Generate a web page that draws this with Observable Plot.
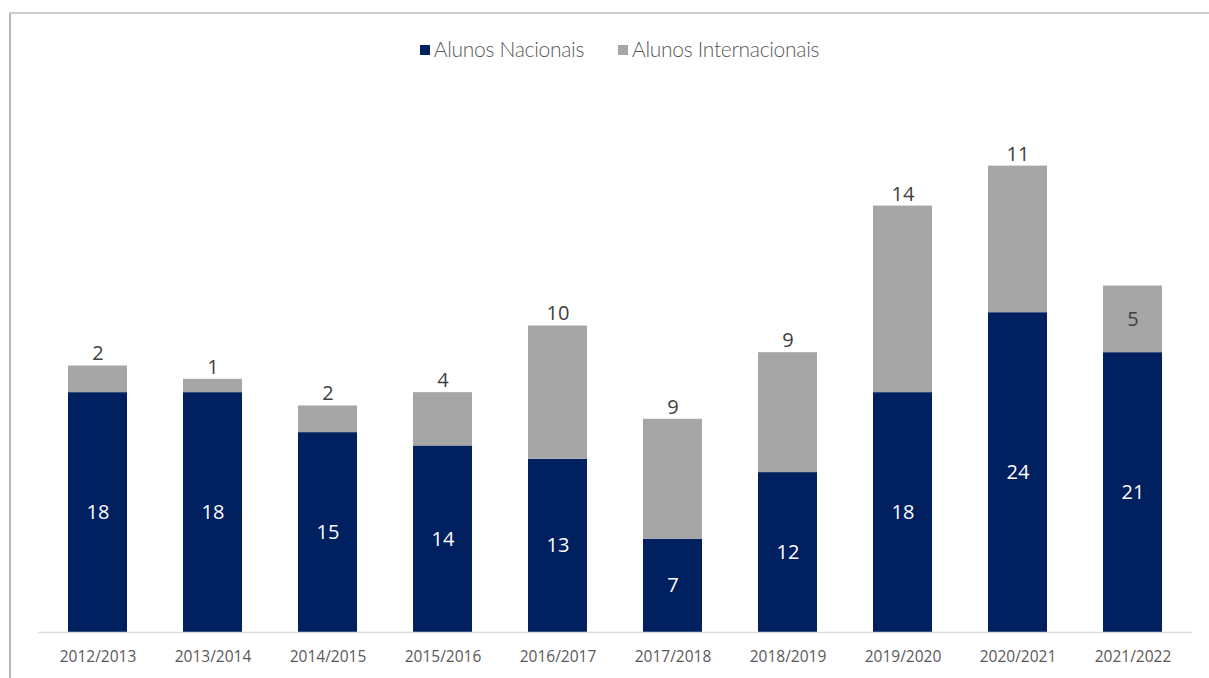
<!DOCTYPE html>
<html><head><meta charset="utf-8">
<script src="https://cdn.jsdelivr.net/npm/d3@7"></script>
<script src="https://cdn.jsdelivr.net/npm/@observablehq/plot@0.6"></script>
<style>
html,body{margin:0;padding:0;background:#fff;width:1209px;height:678px;overflow:hidden;}
#frame{position:absolute;left:9px;top:12px;width:1300px;height:800px;border-top:2px solid #d0d0d0;border-left:2px solid #b8b8b8;}
#legend{position:absolute;top:36px;left:30px;width:1179px;display:flex;justify-content:center;gap:34px;font-family:"Lato",sans-serif;font-size:21px;color:#595959;font-weight:300;letter-spacing:-0.3px;}
#legend span.sw{display:inline-block;width:10px;height:10px;margin-right:4px;vertical-align:middle;position:relative;top:-2px;}
#chart{position:absolute;left:0;top:0;}
</style></head><body>
<div id="frame"></div>
<div id="legend"></div>
<div id="chart"></div>
<script>
const years = ["2012/2013","2013/2014","2014/2015","2015/2016","2016/2017","2017/2018","2018/2019","2019/2020","2020/2021","2021/2022"];
const nacionais = [18,18,15,14,13,7,12,18,24,21];
const internacionais = [2,1,2,4,10,9,9,14,11,5];
const seriesNames = ["Alunos Nacionais","Alunos Internacionais"];
const colors = ["#002060","#a6a6a6"];

const leg = document.getElementById("legend");
seriesNames.forEach((n,i)=>{
  const d = document.createElement("div");
  d.innerHTML = `<span class="sw" style="background:${colors[i]}"></span>${n}`;
  leg.appendChild(d);
});

const rows = [];
years.forEach((y,i)=>{
  rows.push({year:y, serie:seriesNames[0], value:nacionais[i], base:0, top:nacionais[i]});
  rows.push({year:y, serie:seriesNames[1], value:internacionais[i], base:nacionais[i], top:nacionais[i]+internacionais[i]});
});
const nac = rows.filter(d=>d.serie===seriesNames[0]);
const intl = rows.filter(d=>d.serie===seriesNames[1]);
const lastYear = years[years.length-1];

const plot = Plot.plot({
  width:1209, height:678,
  marginLeft:38, marginRight:17, marginTop:99, marginBottom:46,
  style:{fontFamily:"'Open Sans',sans-serif", background:"transparent"},
  x:{domain:years, paddingInner:0.49, paddingOuter:0.245, label:null},
  y:{domain:[0,40], axis:null},
  color:{domain:seriesNames, range:colors},
  marks:[
    Plot.barY(rows,{x:"year", y1:"base", y2:"top", fill:"serie"}),
    Plot.ruleY([0],{stroke:"#d9d9d9", strokeWidth:1.5}),
    Plot.axisX({tickSize:0, tickPadding:18, fontSize:15.5, color:"#595959", fill:"#595959"}),
    Plot.text(nac,{x:"year", y:d=>(d.base+d.top)/2, text:d=>String(d.value), fill:"white", fontSize:20}),
    Plot.text(intl.filter(d=>d.year!==lastYear),{x:"year", y:"top", text:d=>String(d.value), fill:"#404040", fontSize:20, dy:-12}),
    Plot.text(intl.filter(d=>d.year===lastYear),{x:"year", y:d=>(d.base+d.top)/2, text:d=>String(d.value), fill:"#404040", fontSize:20})
  ]
});
document.getElementById("chart").appendChild(plot);
</script>
</body></html>
